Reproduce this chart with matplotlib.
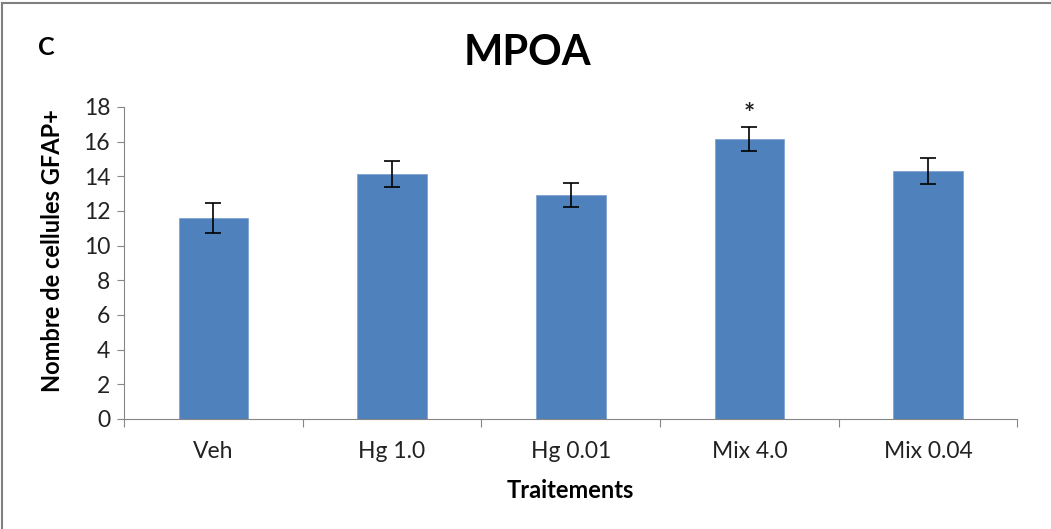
import numpy as np
import matplotlib
matplotlib.use('Agg')
from matplotlib import pyplot as plt
from matplotlib.patches import Rectangle

# données
traitements = ['Veh', 'Hg 1.0', 'Hg 0.01', 'Mix 4.0', 'Mix 0.04']
moyennes = [11.6, 14.15, 12.9, 16.15, 14.3]
erreurs = [0.85, 0.75, 0.7, 0.67, 0.75]
signif = ['', '', '', '*', '']

plt.rcParams['font.family'] = ['Lato', 'DejaVu Sans']
grey = '#868686'

fig = plt.figure(figsize=(10.51, 5.29), dpi=100)
ax = fig.add_axes([0.118, 0.208, 0.85, 0.59])

x = np.arange(len(traitements))
ax.bar(x, moyennes, width=0.39, color='#4F81BD', edgecolor='#7FA3D3', linewidth=0.6,
       yerr=erreurs, capsize=6, error_kw={'elinewidth': 1.2, 'capthick': 1.2, 'ecolor': 'black'})

for i in range(len(traitements)):
    if signif[i]:
        ax.text(x[i], moyennes[i] + erreurs[i] + 0.75, signif[i], ha='center', va='center',
                fontsize=19, fontweight='bold', color='#222222')

ax.set_xlim(-0.5, len(traitements) - 0.5)
ax.set_ylim(0, 18)
ax.set_yticks(range(0, 19, 2))
ax.set_xticks(x)
ax.set_xticklabels(traitements, fontsize=16.5)
ax.set_xticks(np.arange(-0.5, len(traitements), 1), minor=True)
ax.tick_params(axis='x', which='major', length=0, pad=16, labelcolor='#222222')
ax.tick_params(axis='x', which='minor', length=6, color=grey, width=0.8)
ax.tick_params(axis='y', length=5, color=grey, width=0.8, labelsize=16.5, pad=5,
               labelcolor='#222222')

for s in ['top', 'right']:
    ax.spines[s].set_visible(False)
for s in ['left', 'bottom']:
    ax.spines[s].set_color(grey)
    ax.spines[s].set_linewidth(0.8)

ax.set_ylabel('Nombre de cellules GFAP+', fontsize=17, fontweight='bold')
ax.yaxis.set_label_coords(-0.067, 0.54)
ax.set_xlabel('Traitements', fontsize=17, fontweight='bold', labelpad=12)

fig.text(0.502, 0.9, 'MPOA', ha='center', va='center', fontsize=30, fontweight='bold')
fig.text(0.036, 0.91, 'C', ha='left', va='center', fontsize=18, fontweight='bold')

# cadre gris autour de la figure
fig.patches.append(Rectangle((0.002, -0.01), 1.2, 1.005, transform=fig.transFigure,
                             fill=False, edgecolor='#7f7f7f', linewidth=1.5))

fig.savefig('out.png', dpi=100)
